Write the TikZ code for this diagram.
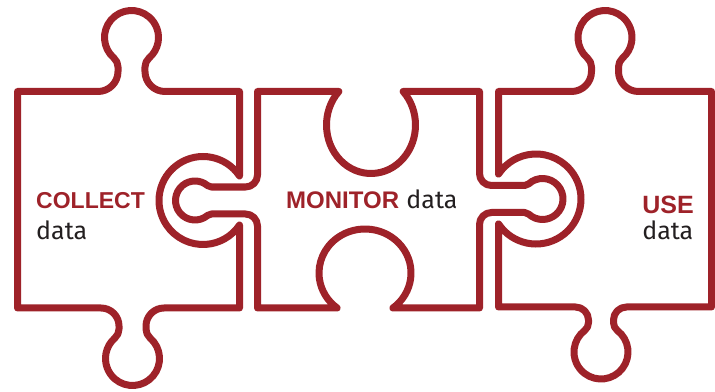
\documentclass[tikz,border=0pt]{standalone}
\usepackage{fontspec}
\setmainfont{Fira Sans}
\newfontfamily\wordfont{Liberation Sans}
\usepackage{xcolor}
\usepackage{tikz}
\usetikzlibrary{positioning}

\definecolor{puzzlered}{RGB}{158,34,41}
\definecolor{datagray}{RGB}{35,31,32}

\begin{document}
\begin{tikzpicture}[x=1pt, y=1pt]
\tikzstyle{piece} = [draw=puzzlered, line width=7pt, line join=round]
\tikzstyle{bigword} = [inner sep=0pt, text=puzzlered, font=\fontsize{23}{26}\selectfont\wordfont\bfseries]
\tikzstyle{smallword} = [inner sep=0pt, text=datagray, font=\fontsize{25}{28}\selectfont]

\useasboundingbox (0,0) rectangle (715,391);

% collect piece
\draw[piece] (17.5,83) -- (17.5,299.5) -- (98,299.5)
  arc[start angle=-90, end angle=0, radius=20] -- ++(0,4.49)
  arc[start angle=0, end angle=49.17, radius=12]
  arc[start angle=229.17, end angle=-49.17, radius=27]
  arc[start angle=130.83, end angle=180, radius=12] -- ++(0,-4.49)
  arc[start angle=180, end angle=270, radius=20]
  -- (239.5,299.5) -- (239.5,215.07)
  arc[start angle=33.95, end angle=326.05, radius=44]
  -- (239.5,83) -- (164,83)
  arc[start angle=90, end angle=180, radius=18] -- ++(0,-2.99)
  arc[start angle=180, end angle=229.17, radius=12]
  arc[start angle=409.17, end angle=130.83, radius=27]
  arc[start angle=310.83, end angle=360, radius=12] -- ++(0,2.99)
  arc[start angle=360, end angle=450, radius=18]
  -- cycle;

% monitor piece
\draw[piece] (257.5,83) -- (257.5,165)
  arc[start angle=0, end angle=90, radius=12] -- ++(-34.07,0)
  arc[start angle=90, end angle=130.12, radius=6]
  arc[start angle=310.12, end angle=49.88, radius=19.5]
  arc[start angle=229.88, end angle=270, radius=6] -- ++(34.07,0)
  arc[start angle=270, end angle=360, radius=12]
  -- (257.5,299.5) -- (338.82,299.5)
  arc[start angle=136.31, end angle=403.69, x radius=44.5, y radius=48.5]
  -- (479.5,299.5) -- (479.5,217.5)
  arc[start angle=-180, end angle=-90, radius=12] -- ++(33.06,0)
  arc[start angle=-90, end angle=-47.38, radius=6]
  arc[start angle=132.62, end angle=-132.62, radius=20.5]
  arc[start angle=47.38, end angle=90, radius=6] -- ++(-33.06,0)
  arc[start angle=90, end angle=180, radius=12]
  -- (479.5,83) -- (392.88,83)
  arc[start angle=-52.70, end angle=232.70, x radius=46, y radius=44]
  -- cycle;

% use piece
\draw[piece] (498.5,84) -- (498.5,167.12)
  arc[start angle=213.56, end angle=506.44, radius=45]
  -- (498.5,299.5) -- (571.5,299.5)
  arc[start angle=-90, end angle=0, radius=20] -- ++(0,4.49)
  arc[start angle=0, end angle=49.17, radius=12]
  arc[start angle=229.17, end angle=-49.17, radius=27]
  arc[start angle=130.83, end angle=180, radius=12] -- ++(0,-4.49)
  arc[start angle=180, end angle=270, radius=20]
  -- (711.5,299.5) -- (711.5,84) -- (626.5,84)
  arc[start angle=90, end angle=180, radius=13] -- ++(0,-2.63)
  arc[start angle=180, end angle=232.54, radius=10]
  arc[start angle=412.54, end angle=127.46, radius=27]
  arc[start angle=307.46, end angle=360, radius=10] -- ++(0,2.63)
  arc[start angle=360, end angle=450, radius=13]
  -- cycle;

% labels
\node[bigword, anchor=base west] (collect) at (36,182.7) {COLLECT};
\node[smallword, anchor=base west] (collectdata) at (36,151) {data};
\node[bigword, anchor=base west, font=\fontsize{24}{26}\selectfont\wordfont\bfseries] (monitor) at (286,182.7) {MONITOR};
\node[smallword, right=7pt of monitor.base east, anchor=base west] (monitordata) {data};
\node[bigword, anchor=base east, font=\fontsize{25}{30}\selectfont\wordfont\bfseries] (use) at (694,177.7) {USE};
\node[smallword, anchor=base east] (usedata) at (693.5,151.7) {data};

\end{tikzpicture}
\end{document}
